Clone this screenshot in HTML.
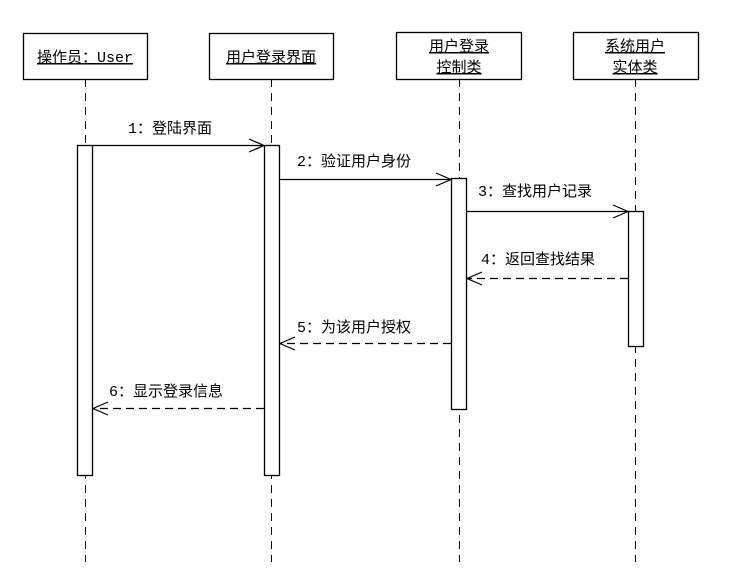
<!DOCTYPE html>
<html><head><meta charset="utf-8"><style>
html,body{margin:0;padding:0;background:#fff;}
svg{display:block;}
text{font-family:"Liberation Mono","Noto Sans CJK SC",monospace;font-size:15px;fill:#000;}
</style></head><body>
<svg width="746" height="570" viewBox="0 0 746 570" xmlns="http://www.w3.org/2000/svg">
<g stroke="#000" stroke-width="1" fill="none" stroke-dasharray="8,6">
<line x1="85.5" y1="79" x2="85.5" y2="562"/>
<line x1="271.5" y1="79" x2="271.5" y2="562"/>
<line x1="459.5" y1="79" x2="459.5" y2="562"/>
<line x1="635.5" y1="79" x2="635.5" y2="562"/>
</g>
<g stroke="#000" stroke-width="1.3" fill="#fff">
<rect x="23.5" y="33.5" width="124" height="46"/>
<rect x="209.5" y="33.5" width="124" height="46"/>
<rect x="396.5" y="32.5" width="125" height="47"/>
<rect x="573.5" y="32.5" width="125" height="47"/>
<rect x="77.5" y="145.5" width="15" height="330"/>
<rect x="264.5" y="145.5" width="15" height="330"/>
<rect x="451.5" y="178.5" width="15" height="231"/>
<rect x="628.5" y="211.5" width="15" height="135"/>
</g>
<g text-anchor="middle">
<text x="85" y="62" text-decoration="underline">操作员：User</text>
<text x="271" y="62" text-decoration="underline">用户登录界面</text>
<text x="459" y="51" text-decoration="underline">用户登录</text>
<text x="459" y="72" text-decoration="underline">控制类</text>
<text x="635" y="51" text-decoration="underline">系统用户</text>
<text x="635" y="72" text-decoration="underline">实体类</text>
</g>
<g stroke="#000" stroke-width="1.2" fill="none">
<line x1="92" y1="145.5" x2="264" y2="145.5"/>
<polyline points="249,139 264,145.5 249,152"/>
<line x1="279" y1="179.5" x2="451" y2="179.5"/>
<polyline points="436,173 451,179.5 436,186"/>
<line x1="466" y1="211.5" x2="628" y2="211.5"/>
<polyline points="613,205 628,211.5 613,218"/>
<g stroke-dasharray="8,5">
<line x1="628" y1="278.5" x2="467" y2="278.5"/>
<line x1="451" y1="343.5" x2="280" y2="343.5"/>
<line x1="264" y1="408.5" x2="93" y2="408.5"/>
</g>
<polyline points="482,272 467,278.5 482,285"/>
<polyline points="295,337 280,343.5 295,350"/>
<polyline points="108,402 93,408.5 108,415"/>
</g>
<text x="128" y="133">1：登陆界面</text>
<text x="297" y="166">2：验证用户身份</text>
<text x="478" y="196">3：查找用户记录</text>
<text x="481" y="264">4：返回查找结果</text>
<text x="297" y="332">5：为该用户授权</text>
<text x="109" y="396">6：显示登录信息</text>
</svg>
</body></html>
